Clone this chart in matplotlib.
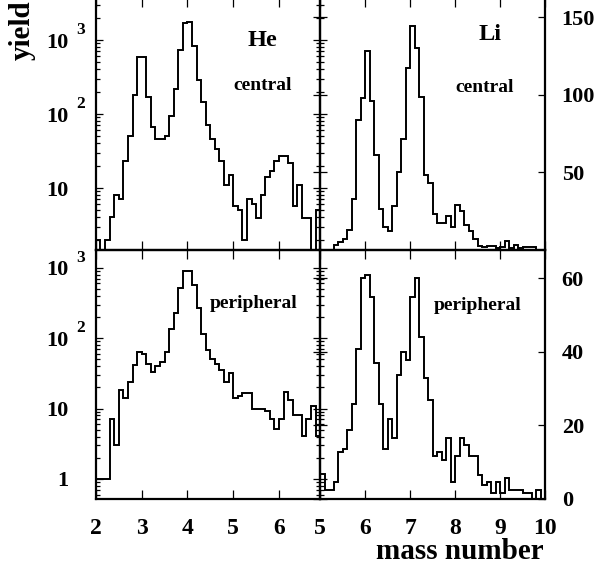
import numpy as np
import matplotlib
matplotlib.use("Agg")
import matplotlib.pyplot as plt
import matplotlib.transforms as mtransforms
from matplotlib.ticker import FixedLocator, FixedFormatter, NullFormatter, LogLocator, NullLocator

# ---------------- data ----------------
he_edges = np.round(np.arange(2.0, 6.9001, 0.1), 2)    # 49 bins, 2.0 .. 6.9
li_edges = np.round(np.arange(5.0, 10.0001, 0.1), 2)   # 50 bins, 5.0 .. 10.0

he_central = [2.0, 1.0, 2.0, 4.0, 8.0, 7.0, 23, 50, 181, 584, 584, 172, 66, 46, 46, 50,
              95, 216, 733, 1713, 1766, 830, 289, 147, 70, 46, 34, 23, 11, 15, 5.8, 5.0,
              2.0, 7.0, 6.1, 3.9, 8.0, 13.9, 17, 23, 27.5, 27.5, 21.7, 5.8, 10.9, 3.9, 3.9,
              1.0, 5.0]
he_peripheral = [1, 1, 1, 7.1, 3.0, 18.3, 14.3, 23.5, 41.5, 62.8, 59.5, 42.4, 32.7, 40.6,
                 46.3, 62.8, 135, 230, 509, 897, 897, 567, 270, 114, 67, 50.5, 43.4, 35.6,
                 24, 32.3, 14, 15, 16.4, 16.4, 10, 10, 10, 9.2, 7.1, 5.1, 7.1, 17.4, 13.2,
                 8.1, 8.1, 4.1, 7.1, 11, 4.1]
li_central = [0, 0, 0, 2.6, 4.9, 7.1, 12.7, 32.9, 83.9, 97.8, 128.4, 96.1, 60.9, 26.2,
              14.6, 11.8, 28, 50.1, 71.6, 117.2, 144.5, 130.1, 98.3, 48.4, 43, 23.2, 16.8,
              16.8, 21.9, 14.6, 29, 24.7, 15.7, 11.8, 7.1, 2.2, 1.5, 2.2, 2.2, 1.1, 1.5,
              5.4, 1.1, 2.6, 1.1, 1.5, 1.5, 1.5, 0, 0]
li_peripheral = [6.7, 2.5, 2.5, 4.7, 12.7, 13.6, 18.8, 25.8, 40.8, 60, 61, 55, 36.9, 25.8,
                 13.6, 21.8, 16.6, 33.8, 40, 37.9, 55, 60, 43.9, 32.9, 26.8, 11.6, 12.7,
                 10.6, 16.6, 4.5, 11.6, 16.6, 14.7, 11.6, 11.6, 6.6, 3.8, 4.5, 1.6, 4.5,
                 1.6, 5.6, 2.5, 2.5, 2.5, 1.6, 1.6, 0, 2.5, 0]

he_xticks = [2, 3, 4, 5, 6]
he_xlabels = ["2", "3", "4", "5", "6"]
li_xticks = [5, 6, 7, 8, 9, 10]
li_xlabels = ["5", "6", "7", "8", "9", "10"]

he_c_yticks = [10, 100, 1000]
he_c_base = ["10", "10", "10"]
he_c_exp = ["", "2", "3"]
he_p_yticks = [1, 10, 100, 1000]
he_p_base = ["1", "10", "10", "10"]
he_p_exp = ["", "", "2", "3"]

li_c_yticks = [50, 100, 150]
li_c_labels = ["50", "100", "150"]
li_p_yticks = [0, 20, 40, 60]
li_p_labels = ["0", "20", "40", "60"]

# ---------------- style ----------------
plt.rcParams["font.family"] = ["Liberation Serif", "DejaVu Serif"]
plt.rcParams["font.weight"] = "bold"

W, H = 599, 567
fig = plt.figure(figsize=(W / 100, H / 100), dpi=100)
fig.patch.set_facecolor("white")


def rect(x0, y0, x1, y1):
    return [x0 / W, 1 - y1 / H, (x1 - x0) / W, (y1 - y0) / H]


XL, XM, XR = 95.9, 320.2, 545.0
YT, YM, YB = -2.0, 249.5, 499.0

ax_hc = fig.add_axes(rect(XL, YT, XM, YM))
ax_lc = fig.add_axes(rect(XM, YT, XR, YM))
ax_hp = fig.add_axes(rect(XL, YM, XM, YB))
ax_lp = fig.add_axes(rect(XM, YM, XR, YB))

LW_H = 1.4
SPW = 1.6
MAJ = 5.3
MIN = 3.0
TW = 0.9
minor_subs = np.arange(2, 10)


def common(ax, xlim, xticks, xlabels, show_xlabels):
    ax.set_facecolor("none")
    ax.set_xlim(*xlim)
    ax.xaxis.set_major_locator(FixedLocator(xticks))
    ax.xaxis.set_minor_locator(NullLocator())
    if show_xlabels:
        ax.xaxis.set_major_formatter(FixedFormatter(xlabels))
    else:
        ax.xaxis.set_major_formatter(NullFormatter())
    ax.tick_params(axis="x", which="major", direction="in", top=True, bottom=True,
                   length=6.5, width=TW, labelsize=17, pad=13.5,
                   labelbottom=show_xlabels)
    for s in ax.spines.values():
        s.set_linewidth(SPW)


def log_panel(ax, vals, ylim, yticks, base, exps, show_xlabels):
    ax.stairs(vals, he_edges, baseline=None, color="black", linewidth=LW_H)
    ax.set_yscale("log")
    ax.set_ylim(*ylim)
    common(ax, (2.0, 6.9), he_xticks, he_xlabels, show_xlabels)
    # twin for outward ticks at the shared boundary
    tw = ax.twinx()
    tw.set_yscale("log")
    tw.set_ylim(*ylim)
    tw.yaxis.set_major_locator(FixedLocator(yticks))
    tw.yaxis.set_minor_locator(LogLocator(base=10, subs=minor_subs))
    tw.yaxis.set_major_formatter(NullFormatter())
    tw.yaxis.set_minor_formatter(NullFormatter())
    tw.tick_params(axis="y", which="major", direction="out", length=MAJ, width=TW,
                   right=True, left=False, labelright=False)
    tw.tick_params(axis="y", which="minor", direction="out", length=MIN, width=TW,
                   right=True, left=False, labelright=False)
    for s in tw.spines.values():
        s.set_visible(False)
    ax.yaxis.set_major_locator(FixedLocator(yticks))
    ax.yaxis.set_major_formatter(FixedFormatter(base))
    ax.yaxis.set_minor_locator(LogLocator(base=10, subs=minor_subs))
    ax.yaxis.set_minor_formatter(NullFormatter())
    ax.tick_params(axis="y", which="major", direction="in", left=True, right=True,
                   length=MAJ, width=TW, labelsize=16, pad=20, labelleft=True,
                   labelright=False)
    ax.tick_params(axis="y", which="minor", direction="in", left=True, right=True,
                   length=MIN, width=TW)
    trans = mtransforms.blended_transform_factory(ax.transAxes, ax.transData)
    off = mtransforms.ScaledTranslation(0, 10 / 100, fig.dpi_scale_trans)
    for yv, e in zip(yticks, exps):
        if e:
            ax.text(-0.088, yv, e, transform=trans + off, fontsize=12.5,
                    fontweight="bold", ha="left", va="center")


def lin_panel(ax, vals, ylim, yticks, labels, show_xlabels):
    ax.stairs(vals, li_edges, baseline=None, color="black", linewidth=LW_H)
    ax.set_ylim(*ylim)
    common(ax, (5.0, 10.0), li_xticks, li_xlabels, show_xlabels)
    tw = ax.twinx()
    tw.set_ylim(*ylim)
    tw.yaxis.tick_left()
    tw.yaxis.set_major_locator(FixedLocator(yticks))
    tw.yaxis.set_major_formatter(NullFormatter())
    tw.tick_params(axis="y", which="major", direction="out", length=MAJ, width=TW,
                   left=True, right=False, labelleft=False, labelright=False)
    for s in tw.spines.values():
        s.set_visible(False)
    ax.yaxis.set_major_locator(FixedLocator(yticks))
    ax.yaxis.set_major_formatter(FixedFormatter(labels))
    ax.yaxis.set_minor_locator(NullLocator())
    ax.tick_params(axis="y", which="major", direction="in", left=True, right=True,
                   length=MAJ, width=TW, labelsize=16, pad=12, labelleft=False,
                   labelright=True)


log_panel(ax_hc, he_central, (1.476, 3698), he_c_yticks, he_c_base, he_c_exp, False)
log_panel(ax_hp, he_peripheral, (0.52, 1813), he_p_yticks, he_p_base, he_p_exp, True)
lin_panel(ax_lc, li_central, (0, 162.5), li_c_yticks, li_c_labels, False)
lin_panel(ax_lp, li_peripheral, (0, 67.8), li_p_yticks, li_p_labels, True)


def ftext(x, y, s, size, **kw):
    fig.text(x / W, 1 - y / H, s, fontsize=size, fontweight="bold",
             ha=kw.pop("ha", "center"), va=kw.pop("va", "center"), **kw)


ftext(262, 40, "He", 17.5)
ftext(262.5, 86, "central", 14)
ftext(490, 35, "Li", 17.5)
ftext(484.5, 87, "central", 14)
ftext(254, 304, "peripheral", 14)
ftext(477.5, 305, "peripheral", 14)

ftext(544, 559, "mass number", 21, ha="right", va="baseline")
ftext(22.5, 60, "yield", 21, rotation=90, ha="center", va="bottom")

fig.savefig("out.png", dpi=100)
